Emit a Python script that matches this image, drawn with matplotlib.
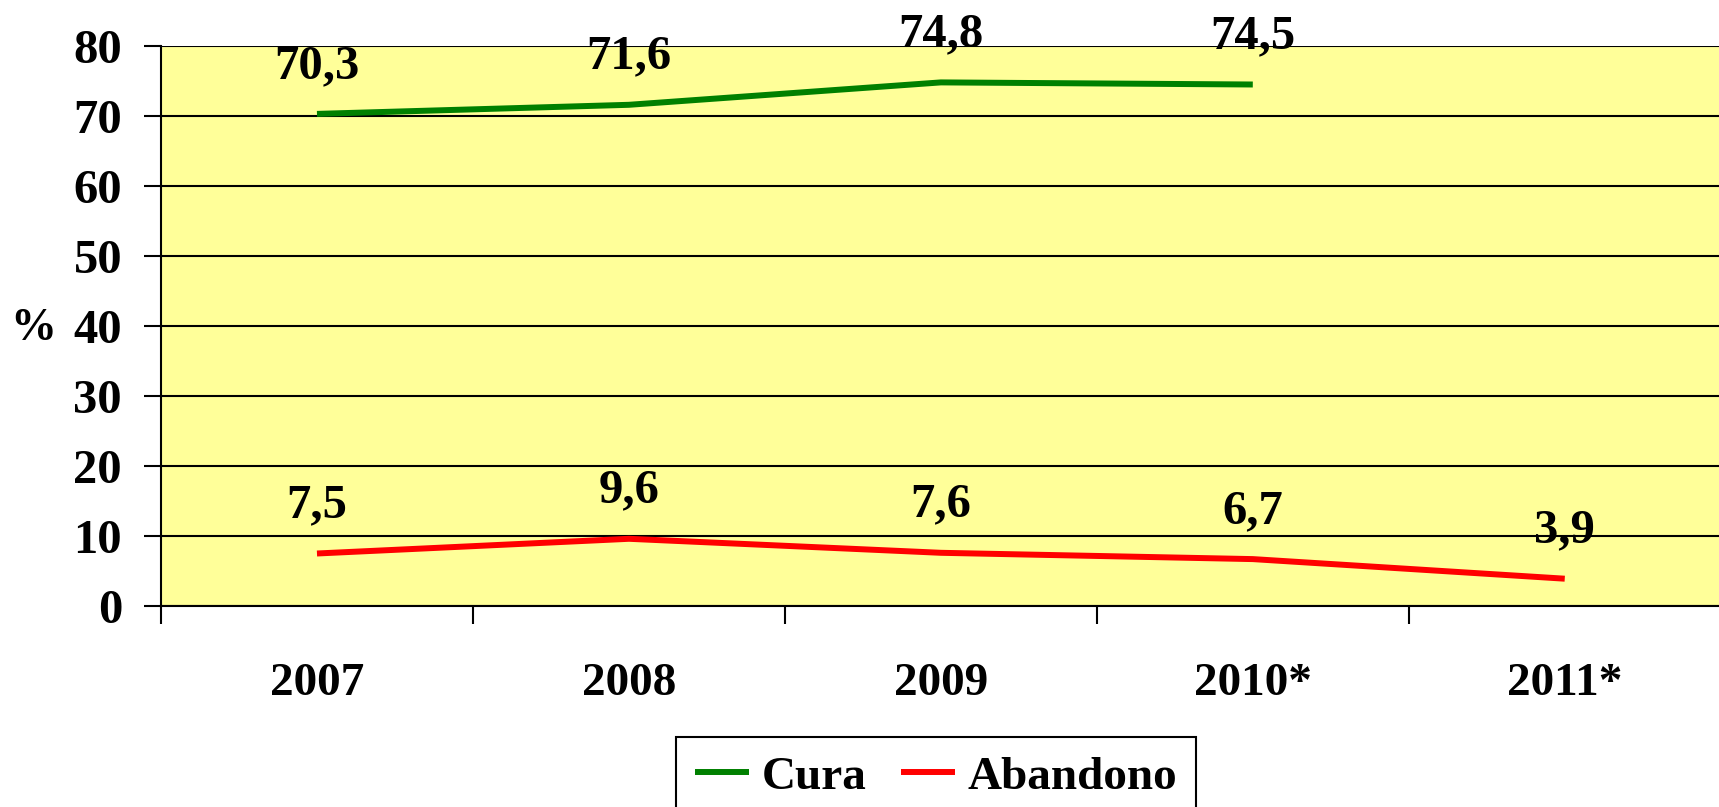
import matplotlib
matplotlib.use("Agg")
import matplotlib.pyplot as plt
import numpy as np

# Data
years = ["2007", "2008", "2009", "2010*", "2011*"]
cura = [70.3, 71.6, 74.8, 74.5, np.nan]
abandono = [7.5, 9.6, 7.6, 6.7, 3.9]
y_ticks = [0, 10, 20, 30, 40, 50, 60, 70, 80]

plt.rcParams['font.family'] = ['Liberation Serif', 'DejaVu Serif']
plt.rcParams['font.weight'] = 'bold'

W, H = 1719, 807
fig = plt.figure(figsize=(W / 100, H / 100), dpi=100)
ax = fig.add_axes([161 / W, (H - 606) / H, 1 - 161 / W + 0.001, (606 - 46) / H])
ax.set_facecolor('#FFFF99')

x = np.arange(len(years))
ax.plot(x, cura, color='#008000', lw=4.3, solid_capstyle='butt', label='Cura', zorder=3)
ax.plot(x, abandono, color='#FF0000', lw=4.3, solid_capstyle='butt', label='Abandono', zorder=3)

# Value labels above the points
for series in (cura, abandono):
    for xi, v in zip(x, series):
        if np.isnan(v):
            continue
        ax.annotate(f"{v:.1f}".replace('.', ','), (xi, v), xytext=(0, 26),
                    textcoords='offset points', ha='center', va='baseline',
                    fontsize=35, fontweight='bold', zorder=4)

ax.set_xlim(-0.5, len(years) - 0.5)
ax.set_ylim(0, 80)
ax.set_yticks(y_ticks)
ax.yaxis.grid(True, color='black', lw=1.5)
ax.set_axisbelow(True)

# Category boundaries as major ticks, labels at centres
ax.set_xticks(np.arange(len(years) + 1) - 0.5)
ax.set_xticklabels([])
ax.set_xticks(x, minor=True)
ax.set_xticklabels(years, minor=True, fontsize=34, fontweight='bold')
ax.tick_params(axis='x', which='major', direction='out', length=13, width=1.5)
ax.tick_params(axis='x', which='minor', length=0, pad=41)
ax.tick_params(axis='y', direction='out', length=12, width=1.5, pad=16, labelsize=35)

for s in ('top', 'right'):
    ax.spines[s].set_visible(False)
for s in ('left', 'bottom'):
    ax.spines[s].set_linewidth(1.5)

ax.set_ylabel('%', rotation=0, fontsize=33, fontweight='bold', ha='center', va='center')
ax.yaxis.set_label_coords((33 - 161) / (W - 161), (606 - 329) / 560)

leg = fig.legend(loc='upper left', bbox_to_anchor=(676 / W, (H - 737) / H), ncol=2,
                 fontsize=34, frameon=True, fancybox=False, borderaxespad=0,
                 handlelength=1.15, handletextpad=0.27, columnspacing=0.72,
                 borderpad=0.4)
leg.get_frame().set_edgecolor('black')
leg.get_frame().set_linewidth(1.5)
leg.get_frame().set_alpha(1)

fig.savefig('out.png', dpi=100)
